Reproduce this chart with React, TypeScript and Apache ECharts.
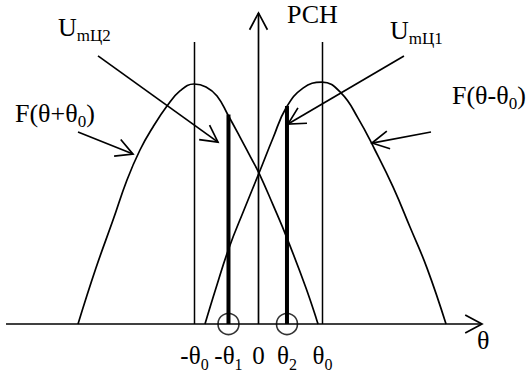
import React, { useEffect, useRef } from "react";
import * as echarts from "echarts";

const FONT = "Liberation Serif";

// Diagram values: x in units of θ0, y = normalized pattern level
const leftCurve: number[][] = [
  [-2.82, 0], [-2.54, 0.233], [-2.273, 0.433], [-2.055, 0.6], [-1.852, 0.725],
  [-1.648, 0.821], [-1.43, 0.908], [-1.227, 0.971], [-1.008, 1.0], [-0.82, 0.988],
  [-0.648, 0.95], [-0.477, 0.871], [-0.289, 0.779], [-0.117, 0.692], [0.008, 0.629],
  [0.227, 0.496], [0.445, 0.358], [0.742, 0.15], [0.93, 0],
];
const rightCurve: number[][] = [
  [-0.836, 0], [-0.664, 0.15], [-0.461, 0.317], [-0.227, 0.475], [0.008, 0.629],
  [0.227, 0.775], [0.43, 0.9], [0.695, 0.983], [0.992, 1.008], [1.289, 0.963],
  [1.555, 0.858], [1.82, 0.725], [2.102, 0.571], [2.367, 0.404], [2.633, 0.233],
  [2.93, 0],
];
const directionLines = [-1, 1];
const directionTop = 1.175;
const signalPos = [-0.469, 0.445];
const signalVal = [0.873, 0.908];
const tickValues = [-1, -0.469, 0, 0.445, 1];
const tickLabels = ["{n|-θ}{s|0}", "{n|-θ}{s|1}", "{n|0}", "{n|θ}{s|2}", "{n|θ}{s|0}"];
// arrows: [x1, y1, x2(tip), y2(tip)]
const arrows: number[][] = [
  [0, 0, 0, 1.296],
  [-3.945, 0, 3.492, 0],
  [-2.508, 1.117, -0.633, 0.758],
  [-2.82, 0.8, -1.961, 0.708],
  [2.273, 1.117, 0.461, 0.833],
  [2.695, 0.8, 1.773, 0.754],
];
const textLabels = [
  { text: "{n|РСН}", x: 287, y: 1 },
  { text: "{n|U}{s|mЦ2}", x: 58, y: 14 },
  { text: "{n|U}{s|mЦ1}", x: 390, y: 17 },
  { text: "{n|F(θ+θ}{s|0}{n|)}", x: 15, y: 100 },
  { text: "{n|F(θ-θ}{s|0}{n|)}", x: 452, y: 82 },
  { text: "{n|θ}", x: 477, y: 327 },
];

const richTop = {
  n: { fontFamily: FONT, fontSize: 26, lineHeight: 30, verticalAlign: "top" },
  s: { fontFamily: FONT, fontSize: 17, lineHeight: 16, verticalAlign: "bottom" },
};
const richBottom = {
  n: { fontFamily: FONT, fontSize: 25, lineHeight: 29, verticalAlign: "top", color: "#000" },
  s: { fontFamily: FONT, fontSize: 16, lineHeight: 16, verticalAlign: "bottom", color: "#000" },
};

const LW = 1.7;

export default function App() {
  const ref = useRef<HTMLDivElement>(null);
  useEffect(() => {
    if (!ref.current) return;
    const chart = echarts.init(ref.current, null, { renderer: "svg" });
    const curveSeries = (data: number[][]) => ({
      type: "line",
      data,
      smooth: 0.45,
      symbol: "none",
      clip: false,
      lineStyle: { color: "#000", width: LW },
      z: 3,
    });
    chart.setOption({
      animation: false,
      backgroundColor: "#fff",
      grid: { left: 0, right: 0, top: 0, bottom: 50 },
      xAxis: {
        type: "value",
        min: -258.5 / 64,
        max: (528 - 258.5) / 64,
        axisLine: { show: false },
        axisTick: { show: false },
        splitLine: { show: false },
        axisLabel: {
          customValues: tickValues,
          margin: 19,
          formatter: (v: number) => {
            let best = 0;
            tickValues.forEach((t, i) => {
              if (Math.abs(t - v) < Math.abs(tickValues[best] - v)) best = i;
            });
            return tickLabels[best];
          },
          rich: richBottom,
        },
      },
      yAxis: { type: "value", min: 0, max: 324 / 240, show: false },
      graphic: textLabels.map((t) => ({
        type: "text",
        x: t.x,
        y: t.y,
        style: { text: t.text, rich: richTop, fill: "#000" },
      })),
      series: [
        curveSeries(leftCurve),
        curveSeries(rightCurve),
        ...directionLines.map((x) => ({
          type: "line",
          data: [[x, 0], [x, directionTop]],
          symbol: "none",
          clip: false,
          lineStyle: { color: "#000", width: 1.5 },
        })),
        {
          type: "bar",
          data: signalPos.map((x, i) => [x, signalVal[i]]),
          barWidth: 4,
          itemStyle: { color: "#000" },
          clip: false,
        },
        {
          type: "scatter",
          data: signalPos.map((x) => [x, 0]),
          symbol: "circle",
          symbolSize: 21,
          clip: false,
          itemStyle: { color: "rgba(0,0,0,0)", borderColor: "#000", borderWidth: 1.6 },
          z: 5,
        },
        {
          type: "custom",
          clip: false,
          dimensions: ["x1", "y1", "x2", "y2"],
          encode: { x: [0, 2], y: [1, 3] },
          data: arrows,
          renderItem: (params: any, api: any) => {
            const p1 = api.coord([api.value(0), api.value(1)]);
            const p2 = api.coord([api.value(2), api.value(3)]);
            const dx = p2[0] - p1[0];
            const dy = p2[1] - p1[1];
            const len = Math.hypot(dx, dy);
            const ux = -dx / len;
            const uy = -dy / len;
            const a = (28 * Math.PI) / 180;
            const L = 19;
            const head = (s: number) => [
              p2[0] + L * (ux * Math.cos(s * a) - uy * Math.sin(s * a)),
              p2[1] + L * (ux * Math.sin(s * a) + uy * Math.cos(s * a)),
            ];
            return {
              type: "group",
              children: [
                {
                  type: "line",
                  shape: { x1: p1[0], y1: p1[1], x2: p2[0], y2: p2[1] },
                  style: { stroke: "#000", lineWidth: LW },
                },
                {
                  type: "polyline",
                  shape: { points: [head(1), p2, head(-1)] },
                  style: { stroke: "#000", fill: "none", lineWidth: LW },
                },
              ],
            };
          },
          z: 4,
        },
      ],
    });
    return () => chart.dispose();
  }, []);
  return (
    <div
      ref={ref}
      style={{ position: "fixed", left: 0, top: 0, width: 528, height: 374, background: "#fff" }}
    />
  );
}
